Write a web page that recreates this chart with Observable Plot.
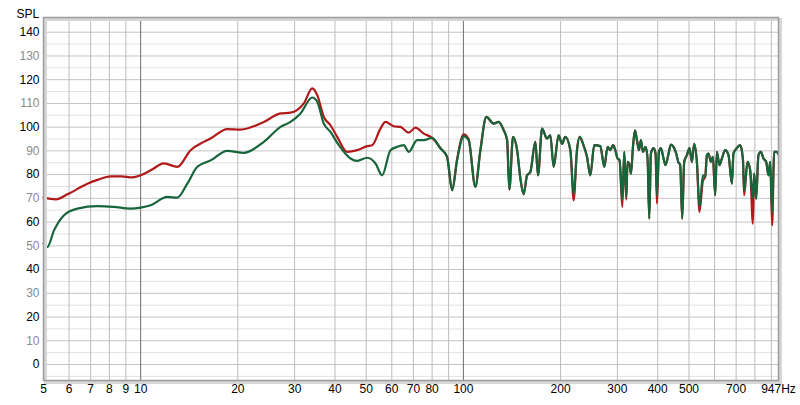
<!DOCTYPE html>
<html>
<head>
<meta charset="utf-8">
<script src="https://cdn.jsdelivr.net/npm/d3@7"></script>
<script src="https://cdn.jsdelivr.net/npm/@observablehq/plot@0.6"></script>
<style>
  html, body { margin: 0; padding: 0; background: #fff; }
</style>
</head>
<body>
<div id="chart"></div>
<script>
// ---- data ----
const redLowHz  = [5.0, 5.46, 5.93, 6.84, 7.35, 8.07, 8.7, 9.42, 10, 10.74, 11.81, 12.99, 14.28, 15.7, 16.47, 18.55, 20.4, 24.08, 27.13, 29.13, 32.03, 34.01, 35.25, 36.94, 38.74, 40.64, 43.65, 46.87, 50.34, 52.17, 55.34, 57.35, 60.85, 63.83, 67.72, 71.03, 75.36, 80, 84.9, 89, 92.3, 95.6, 100.2, 103.8, 108.9];
const redLowSPL = [70.3, 69.6, 71.7, 76.2, 77.8, 79.3, 79.3, 78.8, 79.7, 81.8, 84.7, 83.3, 90.3, 93.8, 95.2, 99.2, 99.0, 102.2, 105.8, 106.1, 110, 116.3, 113.5, 104.3, 100.8, 95.9, 89.6, 90.3, 92.0, 92.4, 99.4, 102.2, 100.4, 100.1, 97.7, 99.8, 97.3, 95.5, 91.2, 87.5, 73.6, 86.5, 97.0, 95.0, 75.0];

const greenLowHz  = [5.0, 5.14, 5.39, 5.79, 6.37, 7.35, 8.25, 9.31, 10, 10.74, 12.1, 12.99, 13.95, 14.98, 16.47, 18.55, 20.88, 24.08, 27.13, 29.13, 31.28, 34.01, 35.25, 36.94, 38.74, 41.11, 44.69, 46.87, 50.34, 53.42, 56.02, 59.43, 62.33, 65.35, 67.72, 71.9, 75.36, 80, 84.9, 89, 92.3, 95.6, 100.2, 103.8, 108.9];
const greenLowSPL = [51.0, 49.5, 56.5, 62.9, 65.7, 66.7, 66.4, 65.7, 66.1, 67.1, 70.6, 70.3, 76.2, 83.3, 86.0, 90.0, 89.2, 93.8, 100.1, 102.2, 105.8, 112.5, 110.7, 101.5, 98.0, 92.4, 86.8, 85.8, 87.1, 84.7, 79.7, 90.3, 91.7, 92.4, 89.6, 94.5, 94.5, 95.5, 91.0, 87.5, 73.4, 86.0, 96.2, 94.5, 74.8];

const hfHz = [112.9, 117.8, 124.1, 128.6, 133.3, 136.6, 138.8, 142.5, 146.7, 150.2, 153.7, 157.5, 161.2, 167.1, 170.3, 175.3, 181.6, 185.9, 190.4, 197.2, 202.1, 206.9, 214.5, 219.6, 224.9, 229.2, 234.8, 241.5, 247.3, 254.4, 265.6, 273.2, 279.8, 285.2, 290.8, 295.5, 300.4, 304.7, 310.7, 315.1, 319.6, 322.6, 327.3, 330.5, 335.3, 340.1, 345, 349.9, 354.9, 360, 366.8, 372.1, 376.6, 381.1, 388.3, 393.9, 397.8, 403.6, 409.4, 417, 423, 431.2, 439.5, 447.7, 456.4, 463, 469.6, 476.4, 483.3, 492.7, 501.9, 510.6, 518.9, 529, 539, 552.3, 561.4, 568.2, 574.6, 584.6, 593, 602.8, 610.1, 621.6, 632.3, 647.4, 662.9, 679.1, 686.8, 703.6, 720.4, 734.4, 741.3, 759, 773.6, 788.7, 796, 807.4, 820.8, 835.1, 850.7, 867.3, 881.6, 892.4, 905.1, 918, 936, 947];
const hfGreenSPL = [90.3, 104.3, 101.5, 102.2, 98.7, 94.5, 73.7, 95.9, 90.3, 78.3, 71.7, 79.7, 81.1, 93.8, 79.7, 99.4, 95.2, 96.6, 83.3, 96.6, 93.0, 95.9, 90.3, 72.0, 90.3, 95.9, 93.0, 87.5, 79.7, 92.4, 92.0, 83.3, 91.7, 90.3, 92.4, 90.3, 86.8, 86.1, 69.2, 89.6, 70.6, 85.4, 84.0, 80.4, 91.7, 98.7, 94.5, 90.3, 94.5, 89.6, 91.7, 86.8, 61.5, 88.9, 91.2, 88.9, 71.3, 89.6, 91.2, 86.8, 84.0, 88.2, 92.7, 91.7, 88.9, 85.4, 84.0, 61.5, 85.4, 88.2, 91.2, 85.4, 93.0, 85.4, 66.4, 79.7, 79.0, 88.2, 88.9, 85.4, 87.5, 71.3, 89.6, 84.0, 86.8, 90.3, 88.2, 76.2, 88.9, 91.2, 92.4, 86.8, 73.4, 85.4, 81.9, 70.0, 80.4, 69.9, 88.2, 89.6, 86.8, 85.4, 79.7, 85.4, 64.3, 89.6, 89.6, 88.5];
const hfRedSPL   = [90.3, 104.3, 101.5, 102.2, 98.7, 94.5, 73.7, 95.9, 90.3, 78.3, 71.7, 79.7, 81.1, 93.8, 79.7, 99.4, 95.2, 96.6, 83.3, 96.6, 93.0, 95.9, 90.3, 69.2, 90.3, 95.9, 93.0, 87.5, 79.7, 92.4, 92.0, 83.3, 91.7, 90.3, 92.4, 90.3, 86.8, 86.1, 66.4, 89.6, 69.5, 85.4, 84.0, 80.4, 91.7, 98.7, 94.5, 90.3, 94.5, 89.6, 91.7, 86.8, 61.5, 88.9, 91.2, 88.9, 67.8, 89.6, 91.2, 86.8, 84.0, 88.2, 92.7, 91.7, 88.9, 85.4, 84.0, 61.5, 85.4, 88.2, 91.2, 85.4, 93.0, 85.4, 64.3, 77.5, 79.0, 88.2, 88.9, 85.4, 87.5, 71.3, 89.6, 84.0, 86.8, 90.3, 88.2, 76.2, 88.9, 91.2, 92.4, 86.8, 71.3, 85.4, 81.9, 59.3, 80.4, 69.9, 88.2, 89.6, 86.8, 85.4, 79.7, 85.4, 58.6, 89.6, 89.6, 88.5];

const xGridHz   = [6, 7, 8, 9, 20, 30, 40, 50, 60, 70, 80, 90, 200, 300, 400, 500, 600, 700, 800, 900];
const xDecades  = [10, 100];
const xLabels   = [5, 6, 7, 8, 9, 10, 20, 30, 40, 50, 60, 70, 80, 100, 200, 300, 400, 500, 700, 947];
const xLabelText = ["5", "6", "7", "8", "9", "10", "20", "30", "40", "50", "60", "70", "80", "100", "200", "300", "400", "500", "700", "947Hz"];
const yLabelsDark  = [0, 20, 40, 60, 80, 100, 120, 140];
const yLabelsLight = [10, 30, 50, 70, 90, 110, 130];
const yMinorLines  = [-5, 5, 15, 25, 35, 45, 55, 65, 75, 85, 95, 105, 115, 125, 135, 145];

// ---- build series ----
const red = redLowHz.map((f, i) => ({f, v: redLowSPL[i]}))
  .concat(hfHz.map((f, i) => ({f, v: hfRedSPL[i]})));
const green = greenLowHz.map((f, i) => ({f, v: greenLowSPL[i]}))
  .concat(hfHz.map((f, i) => ({f, v: hfGreenSPL[i]})));
const xTickData = xLabels.map((f, i) => ({f, t: xLabelText[i]}));

const chart = Plot.plot({
  width: 800,
  height: 405,
  marginLeft: 43,
  marginRight: 22,
  marginTop: 17,
  marginBottom: 25,
  style: {fontFamily: "'Liberation Sans', Arial, sans-serif", fontSize: "12px", background: "#fff"},
  x: {type: "log", domain: [5, 947], axis: null},
  y: {domain: [-6.74, 146.2], axis: null},
  marks: [
    Plot.ruleY(yMinorLines, {stroke: "#e2e2e2", strokeWidth: 1}),
    Plot.ruleY([...yLabelsDark, ...yLabelsLight], {stroke: "#c4c4c4", strokeWidth: 1}),
    Plot.ruleX(xGridHz, {stroke: "#bcbcbc", strokeWidth: 1}),
    Plot.ruleX(xDecades, {stroke: "#6e6e6e", strokeWidth: 1}),
    Plot.line(red, {x: "f", y: "v", stroke: "#b01a1a", strokeWidth: 2.2, curve: "monotone-x"}),
    Plot.line(green, {x: "f", y: "v", stroke: "#17653a", strokeWidth: 2.2, curve: "monotone-x"}),
    Plot.frame({stroke: "#d6d6d6", strokeWidth: 3, dx: 2, dy: 2}),
    Plot.frame({stroke: "#9c9c9c", strokeWidth: 1.5}),
    Plot.text(yLabelsDark, {y: d => d, text: d => String(d), frameAnchor: "left", dx: -4, textAnchor: "end", fill: "#000", fontSize: 12}),
    Plot.text(yLabelsLight, {y: d => d, text: d => String(d), frameAnchor: "left", dx: -4, textAnchor: "end", fill: "#8c8c8c", fontSize: 12}),
    Plot.text(xTickData, {x: "f", text: "t", frameAnchor: "bottom", dy: 12, textAnchor: "middle", fill: "#000", fontSize: 12}),
    Plot.text(["SPL"], {frameAnchor: "top-left", dx: -27, dy: -8, textAnchor: "start", fontSize: 12, fill: "#000"})
  ]
});
document.getElementById("chart").appendChild(chart);
</script>
</body>
</html>
